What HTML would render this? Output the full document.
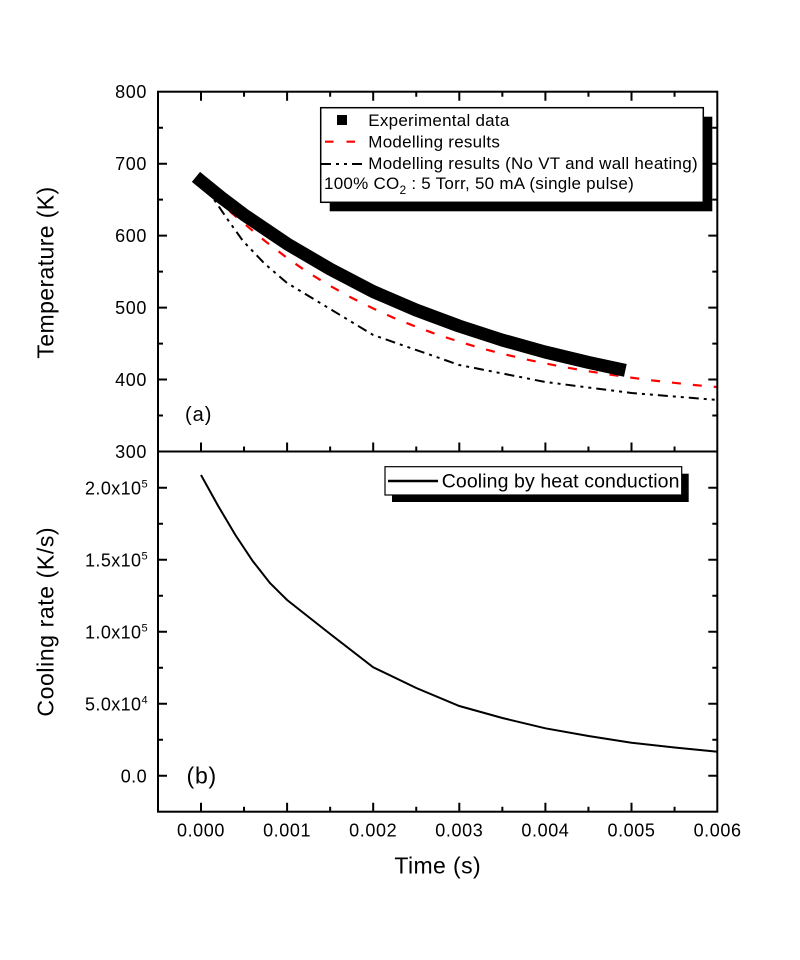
<!DOCTYPE html>
<html>
<head>
<meta charset="utf-8">
<style>
  html, body { margin: 0; padding: 0; background: #ffffff; }
  svg { display: block; }
  text { font-family: "Liberation Sans", Arial, sans-serif; fill: #000; }
</style>
</head>
<body>
<svg width="800" height="960" viewBox="0 0 800 960" xmlns="http://www.w3.org/2000/svg">
  <rect x="0" y="0" width="800" height="960" fill="#ffffff"/>

  <!-- ===== Curves (top panel) ===== -->
  <!-- red dashed modelling results -->
  <polyline fill="none" stroke="#ff0000" stroke-width="2.2" stroke-dasharray="9 12"
    points="201,181 215,197 230,211.5 244,223.5 265,241 287,257.9 308,272.5 330,285.8 351,297.5 373,308.4 394,318 416,326.7 437,334.5 459,341.6 480,348 502,353.6 523,358.8 545,363.3 566,367.5 588,371.2 609,374.5 631,377.6 652,380.4 674,382.8 695,385.1 717.6,387.1"/>
  <!-- dash-dot-dot: no VT and wall heating -->
  <polyline fill="none" stroke="#000000" stroke-width="2" stroke-dasharray="10 5 3 5 3 5"
    points="201,181 213,198 228,220 243,241 265,264 287.1,283 373.2,335 459.3,365 545.4,382 631.5,393 717.6,400"/>
  <!-- experimental data band -->
  <polyline fill="none" stroke="#000000" stroke-width="13" stroke-linecap="square" stroke-linejoin="round"
    points="201,181 221,197.3 244,214.7 287,243.8 330,269 373,291.5 416,310 459,326 502,340 545,352 588,362.3 619,369"/>

  <!-- ===== Curve (bottom panel) ===== -->
  <polyline fill="none" stroke="#000000" stroke-width="2"
    points="201,475 218.2,506 235.4,535 252.7,561 269.9,583 287.1,600 330.2,634 373.2,667.3 416.3,688 459.3,706 502.4,718 545.4,728.3 588.5,736 631.5,742.7 674.6,747.5 717.6,751.7"/>

  <!-- ===== Frame ===== -->
  <rect x="158" y="91.7" width="559.3" height="720" fill="none" stroke="#000" stroke-width="2"/>
  <line x1="158" y1="451.5" x2="717.3" y2="451.5" stroke="#000" stroke-width="2"/>

  <!-- ===== Ticks ===== -->
  <path fill="none" stroke="#000" stroke-width="2" d="
    M158 163.7h9 M158 235.6h9 M158 307.6h9 M158 379.5h9
    M158 127.7h5 M158 199.6h5 M158 271.6h5 M158 343.6h5 M158 415.5h5
    M717.3 163.7h-9 M717.3 235.6h-9 M717.3 307.6h-9 M717.3 379.5h-9
    M717.3 127.7h-5 M717.3 199.6h-5 M717.3 271.6h-5 M717.3 343.6h-5 M717.3 415.5h-5
    M201 91.7v9 M287.1 91.7v9 M373.2 91.7v9 M459.3 91.7v9 M545.4 91.7v9 M631.5 91.7v9
    M244.05 91.7v5 M330.15 91.7v5 M416.25 91.7v5 M502.35 91.7v5 M588.45 91.7v5 M674.55 91.7v5
    M201 451.5v-9 M287.1 451.5v-9 M373.2 451.5v-9 M459.3 451.5v-9 M545.4 451.5v-9 M631.5 451.5v-9
    M244.05 451.5v-5 M330.15 451.5v-5 M416.25 451.5v-5 M502.35 451.5v-5 M588.45 451.5v-5 M674.55 451.5v-5
    M201 811.7v-9 M287.1 811.7v-9 M373.2 811.7v-9 M459.3 811.7v-9 M545.4 811.7v-9 M631.5 811.7v-9
    M244.05 811.7v-5 M330.15 811.7v-5 M416.25 811.7v-5 M502.35 811.7v-5 M588.45 811.7v-5 M674.55 811.7v-5
    M158 487.7h9 M158 559.7h9 M158 631.7h9 M158 703.7h9 M158 775.7h9
    M158 523.7h5 M158 595.7h5 M158 667.7h5 M158 739.7h5
    M717.3 487.7h-9 M717.3 559.7h-9 M717.3 631.7h-9 M717.3 703.7h-9 M717.3 775.7h-9
    M717.3 523.7h-5 M717.3 595.7h-5 M717.3 667.7h-5 M717.3 739.7h-5
  "/>

  <!-- ===== Y tick labels (top) ===== -->
  <g font-size="18" letter-spacing="0.6" text-anchor="end">
    <text x="147" y="98.2">800</text>
    <text x="147" y="170.2">700</text>
    <text x="147" y="242.1">600</text>
    <text x="147" y="314.1">500</text>
    <text x="147" y="386">400</text>
    <text x="147" y="458">300</text>
  </g>

  <!-- ===== Y tick labels (bottom) ===== -->
  <g font-size="18" letter-spacing="0.4" text-anchor="end">
    <text x="148" y="494.7">2.0x10<tspan font-size="11" dy="-7">5</tspan></text>
    <text x="148" y="566.7">1.5x10<tspan font-size="11" dy="-7">5</tspan></text>
    <text x="148" y="638.7">1.0x10<tspan font-size="11" dy="-7">5</tspan></text>
    <text x="148" y="710.7">5.0x10<tspan font-size="11" dy="-7">4</tspan></text>
    <text x="147" y="782.7">0.0</text>
  </g>

  <!-- ===== X tick labels ===== -->
  <g font-size="18" letter-spacing="0.6" text-anchor="middle">
    <text x="201" y="836.7">0.000</text>
    <text x="287.1" y="836.7">0.001</text>
    <text x="373.2" y="836.7">0.002</text>
    <text x="459.3" y="836.7">0.003</text>
    <text x="545.4" y="836.7">0.004</text>
    <text x="631.5" y="836.7">0.005</text>
    <text x="717.6" y="836.7">0.006</text>
  </g>

  <!-- ===== Axis titles ===== -->
  <text x="437.7" y="873.3" font-size="23" letter-spacing="0.4" text-anchor="middle">Time (s)</text>
  <text transform="translate(53.3,272.5) rotate(-90)" x="0" y="0" font-size="23" letter-spacing="0.4" text-anchor="middle">Temperature (K)</text>
  <text transform="translate(53.3,621.7) rotate(-90)" x="0" y="0" font-size="23" letter-spacing="0.6" text-anchor="middle">Cooling rate (K/s)</text>

  <!-- panel labels -->
  <text x="185" y="421" font-size="20" letter-spacing="1">(a)</text>
  <text x="186.5" y="783.5" font-size="23" letter-spacing="0.8">(b)</text>

  <!-- ===== Legend 1 ===== -->
  <rect x="329.7" y="116.7" width="382.6" height="94.6" fill="#000"/>
  <rect x="320.7" y="107.7" width="382.6" height="94.6" fill="#fff" stroke="#000" stroke-width="1.5"/>
  <rect x="337" y="115" width="10" height="10" fill="#000"/>
  <line x1="325" y1="141.7" x2="357" y2="141.7" stroke="#ff0000" stroke-width="2.2" stroke-dasharray="8.5 13"/>
  <line x1="321" y1="164" x2="366" y2="164" stroke="#000" stroke-width="2" stroke-dasharray="10 5 3 5 3 5"/>
  <g font-size="17" letter-spacing="0.25">
    <text x="368.3" y="126">Experimental data</text>
    <text x="368.3" y="147.5">Modelling results</text>
    <text x="368.3" y="169">Modelling results (No VT and wall heating)</text>
    <text x="324" y="189">100% CO<tspan font-size="12" dy="5">2</tspan><tspan dy="-5"> : 5 Torr, 50 mA (single pulse)</tspan></text>
  </g>

  <!-- ===== Legend 2 ===== -->
  <rect x="392" y="473.7" width="296.7" height="28.3" fill="#000"/>
  <rect x="385" y="466.7" width="296.7" height="28.3" fill="#fff" stroke="#000" stroke-width="1.2"/>
  <line x1="388" y1="481" x2="438" y2="481" stroke="#000" stroke-width="2.5"/>
  <text x="441.7" y="487.5" font-size="19.5" letter-spacing="0.1">Cooling by heat conduction</text>
</svg>
</body>
</html>
